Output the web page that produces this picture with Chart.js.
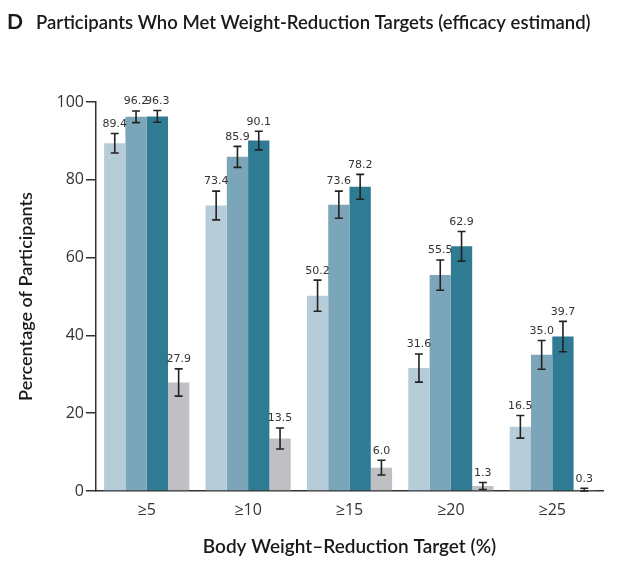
<!DOCTYPE html>
<html>
<head>
<meta charset="utf-8">
<script src="https://cdn.jsdelivr.net/npm/chart.js@4"></script>
<style>
  html, body { margin: 0; padding: 0; background: #fff; }
  #wrap { width: 628px; height: 574px; position: relative; }
</style>
</head>
<body>
<div id="wrap"><canvas id="chart"></canvas></div>
<script>
// categories and values
const categories = ['≥5', '≥10', '≥15', '≥20', '≥25'];
const seriesNames = ['Tirzepatide 5 mg', 'Tirzepatide 10 mg', 'Tirzepatide 15 mg', 'Placebo'];

const dose5 = [89.4, 73.4, 50.2, 31.6, 16.5];
const dose10 = [96.2, 85.9, 73.6, 55.5, 35.0];
const dose15 = [96.3, 90.1, 78.2, 62.9, 39.7];
const placebo = [27.9, 13.5, 6.0, 1.3, 0.3];

// half-width of the error bars (estimated)
const err5 = [2.5, 3.7, 4.0, 3.6, 2.9];
const err10 = [1.5, 2.7, 3.5, 3.9, 3.7];
const err15 = [1.5, 2.4, 3.2, 3.8, 3.9];
const errPlacebo = [3.5, 2.7, 1.9, 0.9, 0.4];

const yTicks = [0, 20, 40, 60, 80, 100];

const colors = ['#b6cdd9', '#7ba6b9', '#2f7b94', '#c0c0c4'];
const textFont = '"Open Sans", "Noto Sans", sans-serif';
const titleFont = 'Lato, "Open Sans", sans-serif';

// error bars + value labels above each bar
const errorBarsPlugin = {
  id: 'errorBars',
  afterDatasetsDraw(chart) {
    const { ctx, scales } = chart;
    const y = scales.y;
    ctx.save();
    chart.data.datasets.forEach((ds, i) => {
      const meta = chart.getDatasetMeta(i);
      meta.data.forEach((bar, j) => {
        const v = ds.data[j];
        const e = ds.err[j];
        const yTop = y.getPixelForValue(v + e);
        const yBot = y.getPixelForValue(Math.max(0, v - e));
        const x = bar.x;
        ctx.strokeStyle = '#222';
        ctx.lineWidth = 1.6;
        ctx.beginPath();
        ctx.moveTo(x, yTop); ctx.lineTo(x, yBot);
        ctx.moveTo(x - 4, yTop); ctx.lineTo(x + 4, yTop);
        ctx.moveTo(x - 4, yBot); ctx.lineTo(x + 4, yBot);
        ctx.stroke();

        ctx.fillStyle = '#333';
        ctx.font = '11px "DejaVu Sans", sans-serif';
        ctx.textAlign = 'center';
        ctx.textBaseline = 'bottom';
        ctx.fillText(v.toFixed(1), x, yTop - 4);
      });
    });
    ctx.restore();
  }
};

// panel letter and heading (shrunk until it fits the width it has in the figure)
const headingPlugin = {
  id: 'heading',
  afterDraw(chart) {
    const { ctx } = chart;
    const text = 'Participants Who Met Weight-Reduction Targets (efficacy estimand)';
    ctx.save();
    ctx.fillStyle = '#1a1a1a';
    ctx.textBaseline = 'alphabetic';
    ctx.textAlign = 'left';
    ctx.font = 'bold 21px ' + titleFont;
    ctx.fillText('D', 7, 29);
    let size = 21;
    ctx.font = '600 ' + size + 'px ' + titleFont;
    while (ctx.measureText(text).width > 562 && size > 12) {
      size -= 0.25;
      ctx.font = '600 ' + size + 'px ' + titleFont;
    }
    ctx.fillText(text, 36, 29);
    ctx.restore();
  }
};

const errs = [err5, err10, err15, errPlacebo];
const values = [dose5, dose10, dose15, placebo];

new Chart(document.getElementById('chart'), {
  type: 'bar',
  data: {
    labels: categories,
    datasets: values.map((d, i) => ({
      label: seriesNames[i],
      data: d,
      err: errs[i],
      backgroundColor: colors[i],
      borderWidth: 0,
      categoryPercentage: 0.84,
      barPercentage: 1.0
    }))
  },
  options: {
    responsive: true,
    maintainAspectRatio: false,
    animation: false,
    layout: { padding: { top: 102, right: 25, left: 0, bottom: 0 } },
    plugins: {
      legend: { display: false },
      tooltip: { enabled: false }
    },
    scales: {
      x: {
        afterFit(scale) { scale.height = 83; },
        grid: { display: true, drawOnChartArea: false, drawTicks: false },
        border: { display: true, color: '#333', width: 1.5 },
        ticks: { color: '#333', padding: 10, font: { family: textFont, size: 16 } },
        title: {
          display: true,
          text: 'Body Weight–Reduction Target (%)',
          color: '#1a1a1a',
          font: { family: titleFont, size: 19, weight: '600' },
          padding: { top: 0, bottom: 16 }
        }
      },
      y: {
        min: 0,
        max: 100,
        afterFit(scale) { scale.width = 96; },
        afterBuildTicks(scale) { scale.ticks = yTicks.map(v => ({ value: v })); },
        grid: { display: true, drawOnChartArea: false, drawTicks: true, tickLength: 10, color: '#333', lineWidth: 1.5 },
        border: { display: true, color: '#333', width: 1.5 },
        ticks: { color: '#333', padding: 2, font: { family: textFont, size: 16 } },
        title: {
          display: true,
          text: 'Percentage of Participants',
          color: '#1a1a1a',
          font: { family: titleFont, size: 18, weight: '600' },
          padding: { top: 15, bottom: 0 }
        }
      }
    }
  },
  plugins: [errorBarsPlugin, headingPlugin]
});
</script>
</body>
</html>
